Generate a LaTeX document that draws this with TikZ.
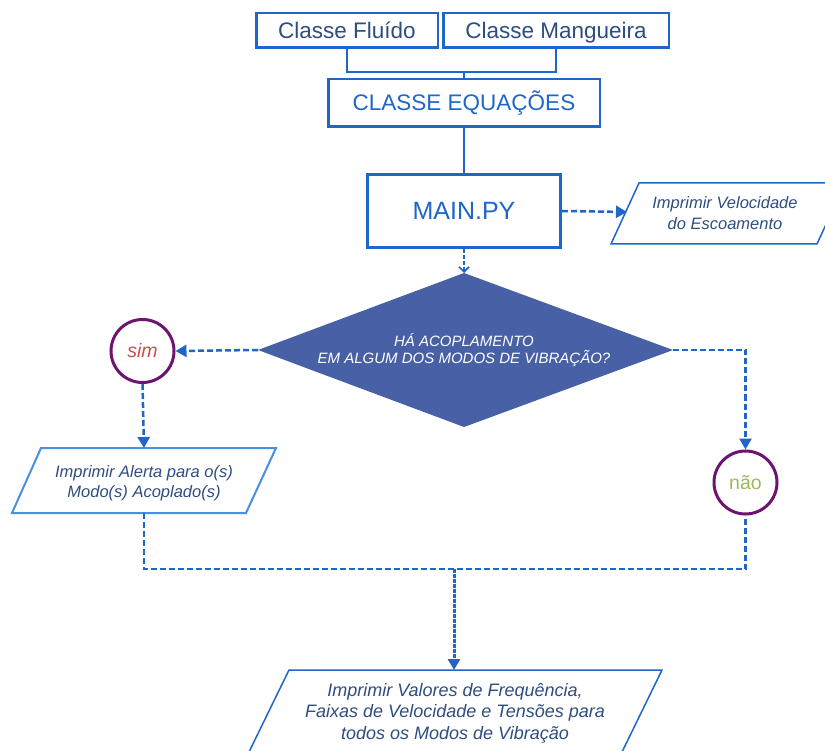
\documentclass[tikz,border=0pt]{standalone}
\usepackage{fontspec}
\setmainfont{Liberation Sans}
\usetikzlibrary{arrows.meta}
\definecolor{bblue}{HTML}{1F66C8}
\definecolor{tblue}{HTML}{2E4D80}
\definecolor{lblue}{HTML}{4A8FE0}
\definecolor{dfill}{HTML}{4760A6}
\definecolor{purp}{HTML}{6C1470}
\definecolor{simred}{HTML}{C8504D}
\definecolor{naogreen}{HTML}{9BBB59}
\tikzset{
  classbox/.style={draw=bblue, line width=2.5pt, rectangle, inner sep=0pt, text=tblue, font=\fontsize{22.5}{26}\selectfont, text height=16.5pt, text depth=0pt},
  bigbox/.style={draw=bblue, rectangle, inner sep=0pt, text=bblue},
  solidline/.style={draw=bblue, line width=2.2pt},
  dashline/.style={draw=bblue, line width=2.5pt, dash pattern=on 6pt off 3pt},
  tip/.style={-{Triangle[length=11pt,width=12pt]}},
  ptext/.style={align=center, text=tblue, font=\fontsize{16.5}{20.5}\selectfont\itshape},
  decision/.style={draw=purp, line width=3pt, circle, minimum size=63pt, inner sep=0pt, font=\fontsize{19.5}{22}\selectfont},
  para/.style={draw=bblue, line width=1.5pt, line join=miter},
}
\begin{document}
\begin{tikzpicture}[x=1pt,y=-1pt]
\useasboundingbox (0,0) rectangle (825,751);
\fill[white] (0,0) rectangle (825,751);
\clip (0,0) rectangle (825,751);

% top boxes
\node[classbox, minimum width=181.5pt, minimum height=34.5pt] (fluido) at (347,30.5) {Classe Fluído};
\node[classbox, minimum width=225.5pt, minimum height=34.5pt] (mang) at (556,30.5) {Classe Mangueira};
\node[bigbox, line width=2.5pt, minimum width=271.5pt, minimum height=47.5pt, font=\fontsize{22.5}{26}\selectfont] (equ) at (464,103) {CLASSE EQUAÇÕES};
\node[bigbox, line width=3pt, minimum width=193pt, minimum height=73pt, font=\fontsize{25}{29}\selectfont] (main) at (464,211) {MAIN.PY};

\coordinate (jt) at (464,72);
\draw[solidline] (fluido.south) |- (jt) -| (mang.south);
\draw[solidline] (jt) -- (equ.north);
\draw[solidline] (equ.south) -- (main.north);

% velocidade parallelogram
\coordinate (vL) at (627,212);
\draw[para] (639,183) -- (845,183) -- (817,244) -- (611,244) -- cycle;
\node[ptext] (vel) at (725,213) {Imprimir Velocidade\\do Escoamento};
\draw[dashline, tip] (main.east) -- (vL);

% diamond
\coordinate (dT) at (464,273);
\coordinate (dL) at (258,350);
\coordinate (dR) at (673,350);
\coordinate (dB) at (464,427);
\fill[dfill] (dT) -- (dR) -- (dB) -- (dL) -- cycle;
\node[align=center, text=white, font=\fontsize{15}{17.5}\selectfont\itshape] (quest) at (464,350) {HÁ ACOPLAMENTO\\EM ALGUM DOS MODOS DE VIBRAÇÃO?};
\draw[draw=bblue, line width=1.6pt, dash pattern=on 4pt off 2pt, -{Straight Barb[length=5pt,width=10pt]}] (main.south) -- (dT);

% sim branch
\node[decision, text=simred, font=\fontsize{19.5}{22}\selectfont\itshape] (sim) at (142.5,351) {sim};
\draw[dashline, tip] (dL) -- (sim.east);
\coordinate (aT) at (144,448);
\coordinate (aB) at (144,513);
\draw[para, draw=lblue, line width=2pt] (41,448) -- (276,448) -- (246,513) -- (12,513) -- cycle;
\node[ptext] (alerta) at (144,483) {Imprimir Alerta para o(s)\\Modo(s) Acoplado(s)};
\draw[dashline, tip] (sim.south) -- (aT);

% nao branch
\node[decision, text=naogreen] (nao) at (745.5,482.5) {não};
\draw[dashline, tip] (dR) -| (nao.north);

% merge
\coordinate (jn) at (454,569);
\coordinate (fT) at (454,670);
\draw[dashline] (aB) |- (jn) -| (nao.south);
\draw[draw=bblue, line width=3pt, dash pattern=on 4pt off 1pt, tip] (jn) -- (fT);

% final parallelogram
\draw[para] (289,670) -- (662,670) -- (622,752) -- (249,752) -- cycle;
\node[ptext, font=\fontsize{18}{21.5}\selectfont\itshape] (final) at (455,713) {Imprimir Valores de Frequência,\\Faixas de Velocidade e Tensões para\\todos os Modos de Vibração};
\end{tikzpicture}
\end{document}
